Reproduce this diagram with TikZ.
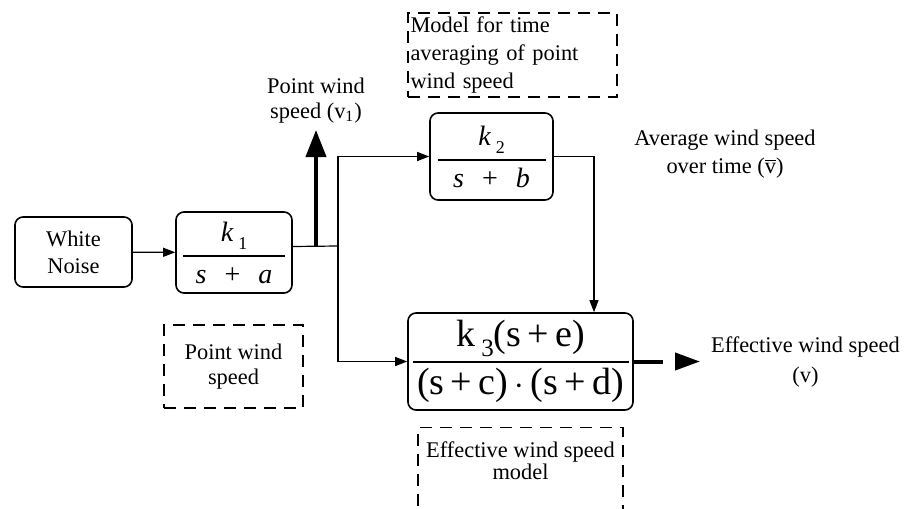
\documentclass[tikz,border=0pt]{standalone}
\usepackage{amsmath}
\usepackage{fontspec}
\setmainfont{Liberation Serif}
\usetikzlibrary{arrows.meta, positioning, calc}

% transfer function: bar width, bar thickness, numerator, denominator
\newcommand{\blockfrac}[4]{$\displaystyle\genfrac{}{}{#2}{0}{\mbox{#3}}{\makebox[#1]{#4}}$}
% lines set close together
\newcommand{\tightlines}{\fontsize{11.2}{11}\selectfont\lineskiplimit -10pt\lineskip 0pt\relax}

\begin{document}
\begin{tikzpicture}[x=0.5pt, y=-0.5pt,
    font=\fontsize{11.2}{13.5}\selectfont,
    block/.style={draw, rounded corners=4pt, line width=0.8pt, align=center, inner sep=1pt},
    note/.style={draw, dash pattern=on 6pt off 4pt, line width=0.6pt, align=center},
    sig/.style={line width=0.6pt, -{Triangle[length=6pt, width=4.5pt]}},
    wire/.style={line width=0.6pt},
    bigsig/.style={line width=2pt, -{Triangle[length=13.5pt, width=10pt]}}]
  \useasboundingbox (0,0) rectangle (909,508);

  % blocks
  \node[block, minimum width=58.5pt, minimum height=35pt] (noise) at (73.5,252) {White\\Noise};
  \node[block, minimum width=58pt, minimum height=40.5pt, font=\fontsize{14}{16}\selectfont] (g1) at (234,252.5)
    {\blockfrac{51pt}{1pt}{\textit{k}\,\raisebox{-4pt}{\fontsize{9}{9}\selectfont 1}}{\textit{s}\hspace{9pt}+\hspace{9pt}\textit{a}}};
  \node[block, minimum width=61.5pt, minimum height=43.5pt, font=\fontsize{14}{16}\selectfont] (g2) at (491.5,156.5)
    {\blockfrac{54pt}{1pt}{\textit{k}\,\raisebox{-4pt}{\fontsize{9}{9}\selectfont 2}}{\textit{s}\hspace{9pt}+\hspace{9pt}\textit{b}}};
  \node[block, minimum width=112.5pt, minimum height=48.5pt, font=\fontsize{19}{21}\selectfont] (g3) at (520.5,361.5)
    {\blockfrac{108pt}{0.7pt}{k\,\raisebox{-5pt}{\fontsize{12.5}{12.5}\selectfont 3}(s\,+\,e)}{(s\,+\,c)\,$\cdot$\,(s\,+\,d)}};

  % dashed notes
  \node[note, minimum width=69.5pt, minimum height=41.5pt, font=\fontsize{11.2}{12.5}\selectfont] (ptnote) at (233.5,366.5) {Point wind\\speed};
  \node[note, minimum width=104.5pt, minimum height=42pt, text width=102pt, align=left, inner sep=1pt,
    font=\fontsize{11.2}{14}\selectfont] (avgnote) at (512.5,55)
    {Model for time\\averaging of point\\wind speed};
  \node[note, minimum width=102.5pt, minimum height=52pt, anchor=north] (effnote) at (520.5,427) {};
  \node[below=4pt of effnote.north, font=\tightlines, align=center] (efftext)
    {Effective wind speed\\model};

  % connections
  \coordinate (tap) at (316,246);
  \coordinate (split) at (338,246);
  \coordinate (v1tip) at (316,130);
  \coordinate (gap) at (663,361.5);
  \coordinate (headstart) at (675,361.5);
  \coordinate (out) at (700,361.5);

  \draw[sig] (noise) -- (g1);
  \draw[wire] ([yshift=3pt]g1.east) -- (split);
  \draw[bigsig] (tap) -- (v1tip);
  \draw[sig] (split) |- (g2.west);
  \draw[sig] (split) |- (g3.west);
  \draw[sig] (g2.east) -| ($(g3.north)+(73.5,0)$);
  \draw[line width=2pt] (g3.east) -- (gap);
  \draw[line width=2pt, -{Triangle[length=12.5pt, width=8.5pt]}] (headstart) -- (out);

  % signal labels
  \node[above=0pt of v1tip, align=center, font=\fontsize{11.2}{12.5}\selectfont] (v1label) {Point wind\\speed (v\textsubscript{1})};
  \node[align=center, font=\fontsize{11.2}{14}\selectfont] (avglabel) at (725,154) {Average wind speed\\over time ($\overline{\mbox{v}}$)};
  \node[right=2pt of out, align=center, font=\fontsize{11.2}{15}\selectfont] (outlabel) {Effective wind speed\\(v)};
\end{tikzpicture}
\end{document}
